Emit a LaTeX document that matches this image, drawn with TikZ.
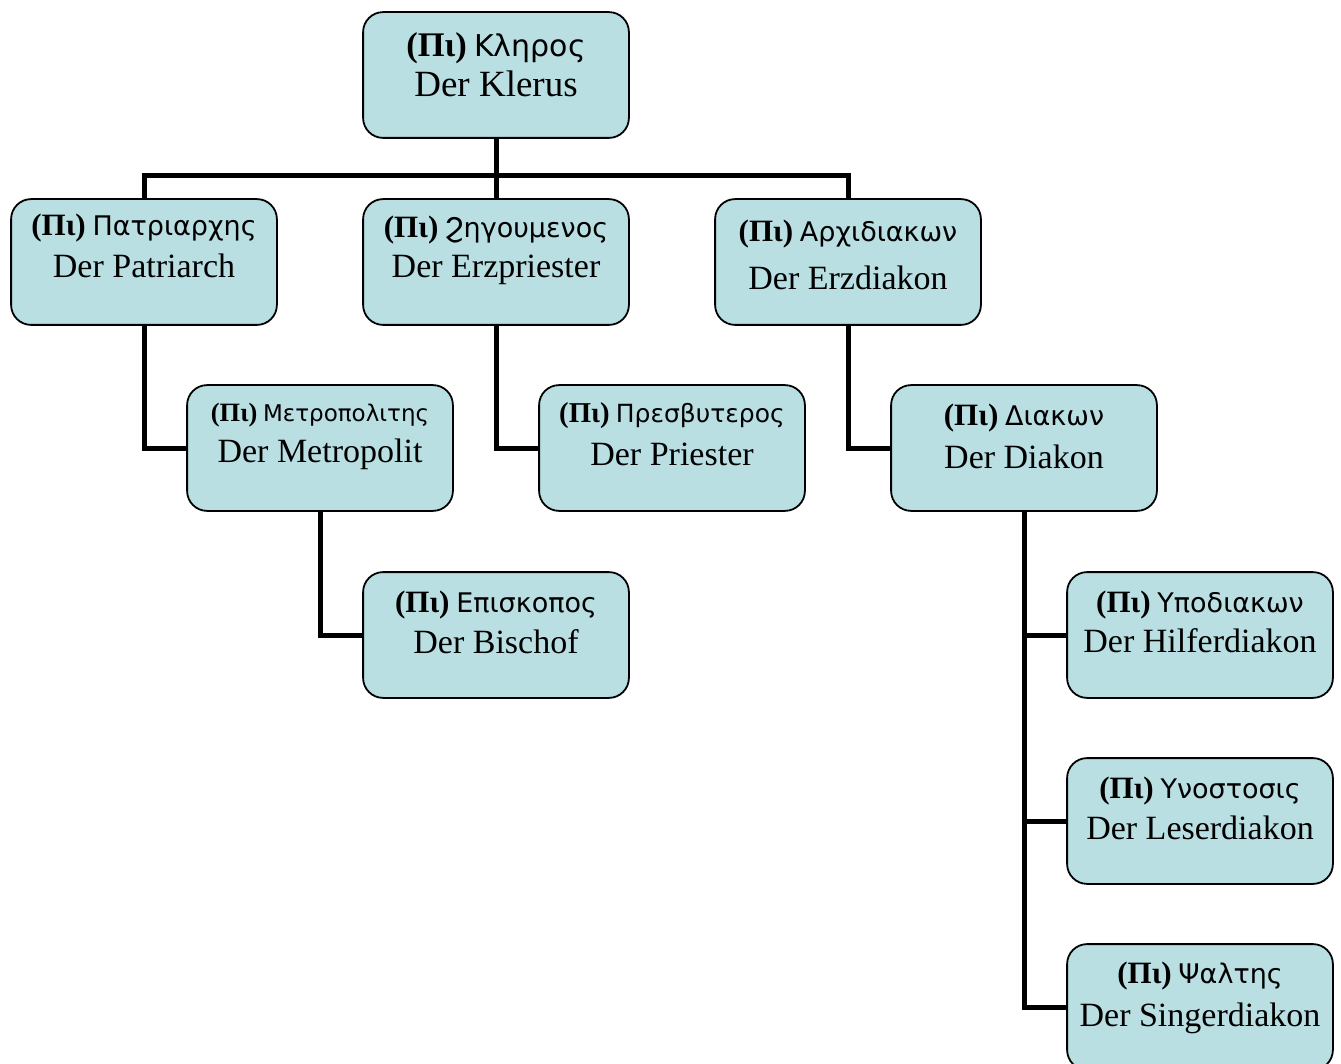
\documentclass[tikz,border=0pt]{standalone}
\usepackage{fontspec}
\usepackage{graphicx}
\setmainfont{Liberation Serif}
\newfontfamily\copt{DejaVu Sans}
\definecolor{boxfill}{RGB}{185,223,227}
\tikzset{
  orgbox/.style={draw=black, line width=1.8pt, fill=boxfill, rounded corners=20pt,
    minimum width=264pt, minimum height=124pt, inner sep=0pt},
  conn/.style={draw=black, line width=5pt},
  cline/.style={anchor=base, inner sep=0pt, font=\fontsize{27}{30}\selectfont},
  gline/.style={anchor=base, inner sep=0pt, font=\fontsize{34}{40}\selectfont},
}
\newcommand\pri{\scalebox{1.15}{\textbf{(Πι)}}}
\begin{document}
\begin{tikzpicture}[x=1pt,y=-1pt]
\useasboundingbox (0,0) rectangle (1341,1064);
% boxes (centre x, centre y = top+62)
\node[orgbox] (klerus) at (496,75) {};
\node[orgbox] (patriarch) at (144,262) {};
\node[orgbox] (erzpriester) at (496,262) {};
\node[orgbox] (erzdiakon) at (848,262) {};
\node[orgbox] (metropolit) at (320,448) {};
\node[orgbox] (priester) at (672,448) {};
\node[orgbox] (diakon) at (1024,448) {};
\node[orgbox] (bischof) at (496,635) {};
\node[orgbox] (hilfer) at (1200,635) {};
\node[orgbox] (leser) at (1200,821) {};
\node[orgbox] (singer) at (1200,1007) {};
\coordinate (bar) at (496,176);
% connectors
\draw[conn] (klerus.south) -- (erzpriester.north);
\draw[conn] (patriarch.north) -- (patriarch.north |- bar) -- (erzdiakon.north |- bar) -- (erzdiakon.north);
\draw[conn] (patriarch.south) |- (metropolit.west);
\draw[conn] (erzpriester.south) |- (priester.west);
\draw[conn] (erzdiakon.south) |- (diakon.west);
\draw[conn] (metropolit.south) |- (bischof.west);
\draw[conn] (diakon.south) |- (hilfer.west);
\draw[conn] (diakon.south) |- (leser.west);
\draw[conn] (diakon.south) |- (singer.west);
% redraw boxes over connector ends
\foreach \n in {klerus,patriarch,erzpriester,erzdiakon,metropolit,priester,diakon,bischof,hilfer,leser,singer}
  \draw[line width=1.8pt, rounded corners=20pt, fill=boxfill] (\n.south west) rectangle (\n.north east);
% texts
\node[cline, font=\fontsize{30}{33}\selectfont] (kla) at (496,57) {\pri\ {\copt Κληρος}};
\node[gline, font=\fontsize{37}{42}\selectfont] (klb) at (496,97) {Der Klerus};
\node[cline] (paa) at (144,236) {\pri\ {\copt Πατριαρχης}};
\node[gline] (pab) at (144,278) {Der Patriarch};
\node[cline] (eza) at (496,238) {\pri\ {\copt Ϩηγουμενος}};
\node[gline] (ezb) at (496,278) {Der Erzpriester};
\node[cline] (eda) at (848,242) {\pri\ {\copt Αρχιδιακων}};
\node[gline] (edb) at (848,290) {Der Erzdiakon};
\node[cline, font=\fontsize{23}{26}\selectfont] (mea) at (320,421) {\pri\ {\copt Μετροπολιτης}};
\node[gline] (meb) at (320,462) {Der Metropolit};
\node[cline, font=\fontsize{25}{28}\selectfont] (pra) at (672,422) {\pri\ {\copt Πρεσβυτερος}};
\node[gline] (prb) at (672,465) {Der Priester};
\node[cline] (dia) at (1024,425) {\pri\ {\copt Διακων}};
\node[gline] (dib) at (1024,468) {Der Diakon};
\node[cline] (bia) at (496,612) {\pri\ {\copt Επισκοπος}};
\node[gline] (bib) at (496,653) {Der Bischof};
\node[cline] (hia) at (1200,612) {\pri\ {\copt Υποδιακων}};
\node[gline] (hib) at (1200,652) {Der Hilferdiakon};
\node[cline] (lea) at (1200,798) {\pri\ {\copt Υνοστοσις}};
\node[gline] (leb) at (1200,839) {Der Leserdiakon};
\node[cline] (sia) at (1200,983) {\pri\ {\copt Ψαλτης}};
\node[gline] (sib) at (1200,1026) {Der Singerdiakon};
\end{tikzpicture}
\end{document}
